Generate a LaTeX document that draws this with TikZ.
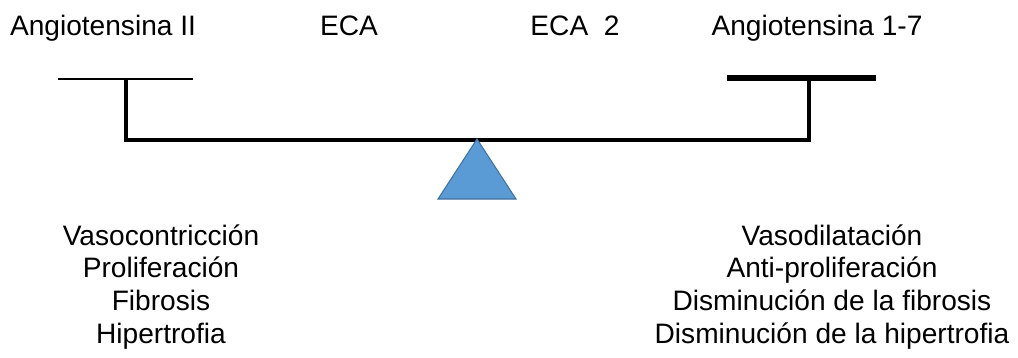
\documentclass[tikz,border=0pt]{standalone}
\usepackage{fontspec}
\setmainfont{Liberation Sans}
\definecolor{azul}{HTML}{5B9BD5}
\definecolor{azulborde}{HTML}{41719C}
\begin{document}
\begin{tikzpicture}[x=0.02cm,y=-0.02cm,
    font=\fontsize{16}{18.5}\selectfont,
    every node/.style={inner sep=0pt,anchor=base,align=center}]
\useasboundingbox (0,0) rectangle (1018,358);
\path
(103,36) node(a2){Angiotensina II}
(349,36) node(eca){ECA}
(575,36) node(eca2){ECA~~2}
(817,36) node(a17){Angiotensina 1-7}
(161,343) node(izq){Vasocontricción\\Proliferación\\Fibrosis\\Hipertrofia}
(832,343) node(der){Vasodilatación\\Anti-proliferación\\Disminución de la fibrosis\\Disminución de la hipertrofia};
% platillos y brazo
\path[draw,line width=1.7pt] (58,79)--(193,79);
\path[draw,line width=3.4pt] (727,78)--(876,78);
\path[draw,line width=2.3pt] (126,79)--(126,140)--(809,140)--(809,78);
% apoyo
\filldraw[fill=azul,draw=azulborde,line width=0.6pt] (477,139)--(516,199)--(438,199)--cycle;
\end{tikzpicture}
\end{document}
